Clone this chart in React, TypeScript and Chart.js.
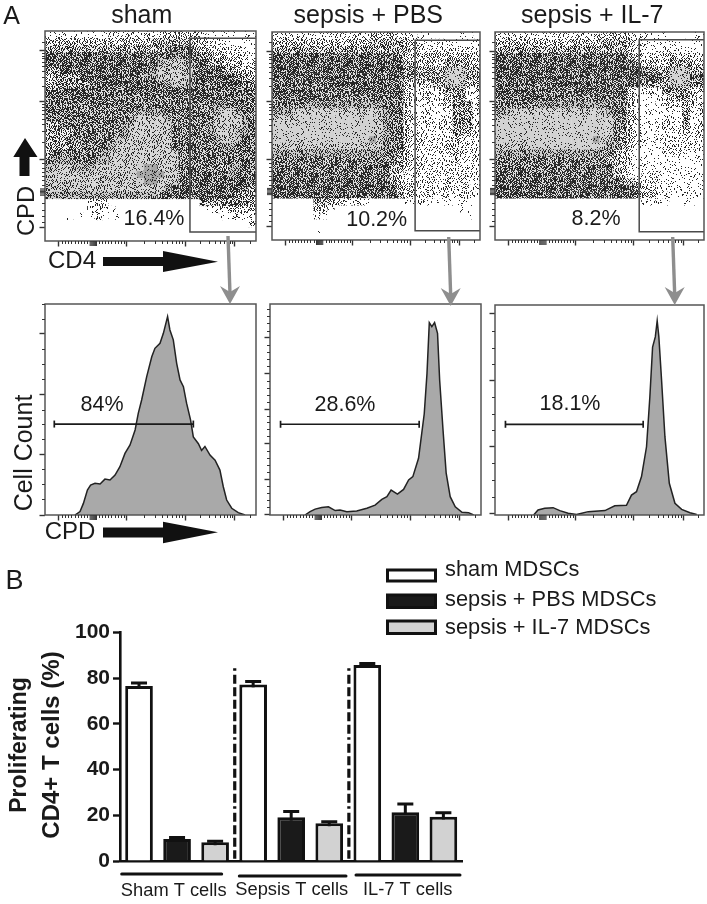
import React, { useEffect, useRef } from "react";
import { Chart, registerables } from "chart.js";

Chart.register(...registerables);

const FONT = "'Liberation Sans', Arial, sans-serif";

/* ---------- Panel A, top row: density, 30 x 30 cells, top row first.
   0 = empty, 1-5 = rising density of black events, 6-8 = pale grey cores, 9 = densest core */
const shamDensity = [
  "112111211222222223333321111011",
  "333333333333333444444332211111",
  "444444444444444445555433222211",
  "555555555555555555655544332221",
  "555555555555555567776554433322",
  "445555555555555677777555544333",
  "344445555555556677777555555443",
  "344444555555555556776555555544",
  "445555555555555555555555555554",
  "555555555555555555555555555555",
  "555555555555555555555555665554",
  "555555555555566665555555677655",
  "555555555555677776555555777765",
  "445555555556777777555556777765",
  "444455555556777777555556777665",
  "444555555567777777555555677655",
  "444445555677777777555555566555",
  "455555556777777777755555555555",
  "566655566777777777755555555555",
  "677766677777789977755555546655",
  "777777777777899997755555556555",
  "777777777777789977755555555555",
  "777777777777777776555555555554",
  "666666666666666655555555555444",
  "000000222000000000000044444443",
  "000000222100000000000001223332",
  "000101121010000000000000011222",
  "000000000000000000000000000012",
  "000000000000000000000000000000",
  "000000000000000000000000000000",
];
const pbsDensity = [
  "222222222222223333222110000110",
  "333333333333334444433111211111",
  "444444444444444444443222222222",
  "555555555555555555433333333333",
  "555555555555555555543333344433",
  "555555555555555555544444477744",
  "555555555555555555544444488844",
  "555555555555555555533334477733",
  "555555555555555555532222344422",
  "555555555555555555532222234422",
  "555556666666666655532222224442",
  "666777777777777765532222224442",
  "777788888888888765532222224442",
  "888888888888888765532222224442",
  "888888888888888765532222224432",
  "888888888888889765532222223322",
  "777777777777777765532222233222",
  "666666666666666655432222223222",
  "555555555555555555432222223222",
  "555555555555555554432222222222",
  "555555555555555554322222222222",
  "555555555555555554322222222212",
  "555555555555555555332222222222",
  "555555555555555555432222222221",
  "000000443322210000011211111110",
  "000000331000000000000000000110",
  "000000210000000000000000000010",
  "000000000000000000000000000000",
  "000000100000000000000000000000",
  "000000000000000000000000000000",
];
const il7Density = [
  "222222222222222333322211100011",
  "333333333333333444432111111111",
  "444444444444444444432111211111",
  "555555555555555555543222332222",
  "555555555555555555554333344433",
  "555555555555555555555544477744",
  "555555555555555555555555488855",
  "555555555555555555555444477744",
  "555555555555555555532222444432",
  "555555555555555555532112234431",
  "555555666666666655532112223332",
  "667777777777777765532112222422",
  "788888888888888875532112222422",
  "888888888888888875532112222422",
  "888888888888888875432112222322",
  "888888888888889875432112222322",
  "777778888888888765432111222222",
  "666666666666666554321111222111",
  "555555555555555544321111111111",
  "555555555555555554321111111111",
  "555555555555555554321222111111",
  "555555555555555555443222111111",
  "555555555555555555554322111111",
  "555555555555555555554332211111",
  "000000000000000000000112100110",
  "000000000000000000000000000000",
  "000000000000000000000000000000",
  "000000000000000000000000000000",
  "000000000000000000000000000000",
  "000000000000000000000000000000",
];

/* gate rectangles: [left x, top y, bottom y], right side is the axis end */
const shamGate = [68.7, 96.5, 4.3];
const pbsGate = [68.8, 96.0, 4.5];
const il7Gate = [69.0, 96.3, 4.0];

/* ---------- Panel A, bottom row: histogram outlines */
const shamHistX = [14.2, 16.6, 18.2, 20.1, 21.6, 23.7, 26.1, 28.4, 30.8, 33.2, 35.5, 37.9, 40.3, 42.7, 44.2, 45.8, 48.2, 50.6, 52.1, 54.5, 56.1, 58.1, 59.2, 60.8, 62.4, 64, 65.6, 67.1, 69, 70.3, 72.7, 74.2, 75.8, 78.2, 80.6, 82.9, 84.5, 86.1, 88.5, 91.6, 94.8];
const shamHistY = [0, 1.6, 5.5, 11.8, 14.2, 15, 14.7, 17, 16.6, 18.9, 22.9, 29.2, 33.2, 40.3, 48.2, 54.5, 65.6, 75, 79, 81.4, 86.1, 94, 87.7, 83, 71.9, 64, 60.8, 53, 45, 37, 33.8, 30.6, 32.5, 28.4, 26, 21.3, 13.4, 7.1, 3.2, 1.1, 0];
const pbsHistX = [16.6, 19, 21.4, 24.5, 27.7, 30.9, 33.2, 36.4, 41.1, 45.9, 49.8, 53, 55.4, 57.4, 60.4, 63.3, 65.7, 67.7, 70.4, 71.7, 73.1, 74.4, 75.5, 76.7, 78, 79.4, 80.4, 82, 83.5, 85.4, 87.8, 91, 94.1, 96.5];
const pbsHistY = [0, 1.6, 2.8, 3.6, 3.9, 2.1, 2.4, 1.6, 1.9, 3.2, 4.7, 7.4, 8.7, 11.8, 9.9, 12.1, 16.6, 18.2, 26.9, 37, 48, 67, 91.2, 89.3, 91.2, 86.1, 64, 40.3, 19.8, 8.7, 3.9, 1.3, 1.1, 0];
const il7HistX = [18.5, 20.6, 23.8, 27.8, 31, 35, 39, 44.6, 52.6, 57.3, 62.9, 65.3, 67.7, 70.1, 72.5, 74.1, 75.4, 76.7, 77.6, 78.4, 79.7, 81.3, 83.4, 86.1, 89.3, 93.3, 96.5];
const il7HistY = [0, 2.4, 3.2, 3.5, 2.1, 0.8, 0.2, 1.6, 2.1, 4.4, 4.6, 9.5, 11.1, 18.3, 32.5, 56.3, 80, 84.8, 92.5, 84.8, 64.2, 37.3, 15.1, 5.6, 2.7, 1.1, 0.3];

/* proliferation marker: [from x, to x, y] */
const shamMarker = [4.4, 70.3, 43.1];
const pbsMarker = [5, 70.7, 43];
const il7Marker = [5, 70.9, 43.2];

/* ---------- Axis ticks */
const logXMajor = [6.3, 38.7, 66.4, 90];
const logXClump = [21.4, 21.9, 22.4, 22.9, 23.4, 23.9, 24.4];
const logXMinor = [8, 9.5, 11, 12.5, 14, 15.5, 17, 18.5, 20, 25.8, 27.2, 28.6, 30, 31.5, 33, 34.5, 36, 37.5, 47, 52, 55.3, 58, 60.2, 62.2, 63.7, 65.1, 73.5, 77.8, 80.6, 82.9, 84.7, 86.3, 87.7, 88.8, 97];
const logYMajor = [90.6, 66.6, 38.9, 6.4];
const logYClump = [21.8, 22.4, 23, 23.6, 24.2, 24.8];
const logYMinor = [95, 73.8, 78.1, 81, 83.4, 85.3, 87, 88.2, 89.4, 47.2, 52.2, 55.5, 58.3, 60.5, 62.4, 63.8, 65.2, 26.5, 29, 31, 33, 35, 37, 9, 12, 15, 18];
const shamCountMajor = [0, 28.9, 57.3, 85.8];
const shamCountMinor = [7.4, 14.5, 21.6, 36, 43.1, 50, 64.5, 71.6, 78.7, 92.7, 100];
const pbsCountMajor = [0.3, 17, 34, 50.2, 67.1, 84];
const pbsCountMinor = [3.7, 7, 10.4, 13.7, 20.4, 23.7, 27, 30.4, 37.3, 40.7, 44, 47, 53.6, 57, 60.3, 63.7, 70.5, 73.8, 77.2, 80.6, 87.4, 90.8, 94.1, 97.5];
const il7CountMajor = [0.8, 32.5, 64, 96];
const il7CountMinor = [8.7, 16.7, 24.6, 40.5, 48, 56, 72, 79.7, 87.8];

/* ---------- Panel B */
const barCategories = ["sham", "sham", "sham", "sepsis", "sepsis", "sepsis", "il7", "il7", "il7"];
const seriesNames = ["sham MDSCs", "sepsis + PBS MDSCs", "sepsis + IL-7 MDSCs"];
const shamMdscValues = [76.5, 77.2, 85.7];
const pbsMdscValues = [9.6, 19.1, 21.3];
const il7MdscValues = [8.2, 16.5, 19.4];
const shamMdscErrorTop = [77.8, 78.5, 86.4];
const pbsMdscErrorTop = [10.3, 21.6, 24.9];
const il7MdscErrorTop = [8.6, 17.2, 21.1];
const yTicks = [0, 20, 40, 60, 80, 100];

/* fixed irregular threshold tile giving the dot plots their stipple */
const stipple = [
  "k3z9q1v7m2x5c8t0p4n6r2ja",
  "7hs0f4ybu6e1w9g3lzd5ko8i",
  "p2m8c5tj1xr7a4qn0v6hy3se",
  "0wg6lzd3ok9if2ub7e5s1tcx",
  "u4r1n9ha5ym8q3k6jp0z7gv2",
  "b8e3x7s0cv2tl5f9od1wi6m4",
  "6jz1kq4pg8n0ra3yh7ue5c9t",
  "d5o9wi2f7lbs6x1mv4kz0gq3",
  "3ya7h0u5ret2jc8pn1i6w9fl",
  "m1v6g4qz9k3dso5xb0te7a2h",
  "f8c2tx6j1pn7ly4ru9e3w0ik",
  "o0i5wd3mb8ga2vz6hs1qc7y4",
  "9nr7ky1uf4ej0tp5xl8d3m6a",
  "s2h4zg6ac9qo3wi7bv1jn0ue",
  "1x8lt0pe5d7yk2mr6fa9gs4c",
  "vb3q9j7ns1hu6zc0ot4i2w8k",
  "4ag6yfm2xl8e5dp3kr7j1q0u",
  "zt1o5c0wi9bv4sh8gy2n6el3",
  "8kr3jud6nq2a7m1xc5f0z9pt",
  "e0w7h4g1ysl9ti3ov6bk2q5d",
  "2pc5mz8fa0xk6ru1j7e3ny9g",
  "iq9t1vb3oh5d2gw8ls4c0m6z",
  "5y6ne7u2rk0pj9fa3t1xi8hv",
  "gl0a3s8dwz4c7qm5yb2o6ku1",
];
const toneStyles = [
  ["#ffffff", 0],
  ["#ffffff", 2],
  ["#ffffff", 5],
  ["#ffffff", 9],
  ["#f2f2f2", 14],
  ["#dcdcdc", 19],
  ["#cccccc", 11],
  ["#d6d6d6", 6],
  ["#d2d2d2", 3],
  ["#a6a6a6", 4],
] as [string, number][];

const TILE = 120;
function tonePattern(tone: number): CanvasPattern | string {
  const [bg, count] = toneStyles[tone];
  const c = document.createElement("canvas");
  c.width = TILE;
  c.height = TILE;
  const g = c.getContext("2d")!;
  g.fillStyle = bg;
  g.fillRect(0, 0, TILE, TILE);
  g.fillStyle = "#262626";
  for (let y = 0; y < TILE; y++) {
    for (let x = 0; x < TILE; x++) {
      const row = stipple[(y + (x >> 3) * 5 + (x >> 1) * 7) % 24];
      if (parseInt(row[(x + y * 11 + (y >> 2) * 7) % 24], 36) < count) g.fillRect(x, y, 1, 1);
    }
  }
  return g.createPattern(c, "repeat")!;
}

function densityDatasets(grid: string[]) {
  const out: any[] = [];
  for (let tone = 1; tone <= 9; tone++) {
    const pts: { x: number; y: number }[] = [];
    grid.forEach((row, r) => {
      for (let c = 0; c < row.length; c++) {
        if (Number(row[c]) === tone) pts.push({ x: ((c + 0.5) * 100) / 30, y: 100 - ((r + 0.5) * 100) / 30 });
      }
    });
    const fill = tonePattern(tone);
    out.push({
      data: pts,
      showLine: false,
      pointStyle: "rect",
      pointRadius: 5.1,
      pointBorderWidth: 0,
      pointBackgroundColor: fill,
      pointHoverRadius: 5.1,
    });
  }
  return out;
}

const frameAndTicks = (minorX: number[], minorY: number[], clumpX: number[], clumpY: number[]) => ({
  id: "frameTicks",
  afterDraw(chart: any) {
    const { ctx, chartArea: a, scales } = chart;
    ctx.save();
    ctx.strokeStyle = "#555555";
    ctx.lineWidth = 1.5;
    ctx.strokeRect(a.left, a.top, a.right - a.left, a.bottom - a.top);
    ctx.strokeStyle = "#333333";
    ctx.lineWidth = 1;
    ctx.beginPath();
    minorX.forEach((v) => {
      const p = Math.round(scales.x.getPixelForValue(v)) + 0.5;
      ctx.moveTo(p, a.bottom);
      ctx.lineTo(p, a.bottom + 3);
    });
    clumpX.forEach((v) => {
      const p = scales.x.getPixelForValue(v);
      ctx.moveTo(p, a.bottom);
      ctx.lineTo(p, a.bottom + 5);
    });
    minorY.forEach((v) => {
      const p = Math.round(scales.y.getPixelForValue(v)) + 0.5;
      ctx.moveTo(a.left, p);
      ctx.lineTo(a.left - 3, p);
    });
    clumpY.forEach((v) => {
      const p = scales.y.getPixelForValue(v);
      ctx.moveTo(a.left, p);
      ctx.lineTo(a.left - 5, p);
    });
    ctx.stroke();
    ctx.restore();
  },
});

function clearScalePadding(s: any) {
  s.paddingTop = 0;
  s.paddingBottom = 0;
  s.paddingLeft = 0;
  s.paddingRight = 0;
}

function panelOptions(majorX: number[], majorY: number[]) {
  const axis = (major: number[], side: "w" | "h") => ({
    type: "linear",
    min: 0,
    max: 100,
    afterBuildTicks: (s: any) => {
      s.ticks = major.map((value) => ({ value }));
    },
    afterFit: (s: any) => {
      if (side === "w") s.width = 8;
      else s.height = 8;
      clearScalePadding(s);
    },
    ticks: { display: false, autoSkip: false },
    border: { display: false },
    grid: { drawOnChartArea: false, drawTicks: true, tickLength: 5.5, tickColor: "#333333", tickWidth: 1.4 },
  });
  return {
    responsive: false,
    animation: false as const,
    layout: { autoPadding: false, padding: { top: 1, right: 1, left: 0, bottom: 0 } },
    plugins: { legend: { display: false }, tooltip: { enabled: false }, title: { display: false } },
    scales: { x: axis(majorX, "h"), y: axis(majorY, "w") },
  };
}

function makeDotPlot(canvas: HTMLCanvasElement, grid: string[], gate: number[]) {
  const [gx, gt, gb] = gate;
  return new Chart(canvas, {
    type: "scatter",
    data: {
      datasets: [
        {
          data: [
            { x: 100, y: gt },
            { x: gx, y: gt },
            { x: gx, y: gb },
            { x: 100, y: gb },
          ],
          showLine: true,
          fill: false,
          tension: 0,
          pointRadius: 0,
          borderColor: "#4a4a4a",
          borderWidth: 1.5,
        },
        ...densityDatasets(grid),
      ],
    } as any,
    options: panelOptions(logXMajor, logYMajor) as any,
    plugins: [frameAndTicks(logXMinor, logYMinor, logXClump, logYClump)],
  });
}

function makeHistogram(
  canvas: HTMLCanvasElement,
  xs: number[],
  ys: number[],
  marker: number[],
  majorY: number[],
  minorY: number[],
) {
  return new Chart(canvas, {
    type: "scatter",
    data: {
      datasets: [
        {
          data: [
            { x: marker[0], y: marker[2] },
            { x: marker[1], y: marker[2] },
          ],
          showLine: true,
          fill: false,
          borderColor: "#1a1a1a",
          borderWidth: 1.7,
          pointStyle: "line",
          pointRotation: 90,
          pointRadius: 3.5,
          pointBorderWidth: 1.7,
          pointBorderColor: "#1a1a1a",
        },
        {
          data: xs.map((x, i) => ({ x, y: ys[i] })),
          showLine: true,
          tension: 0,
          fill: "origin",
          backgroundColor: "#a9a9a9",
          borderColor: "#222222",
          borderWidth: 1.5,
          pointRadius: 0,
        },
      ],
    } as any,
    options: panelOptions(logXMajor, majorY) as any,
    plugins: [frameAndTicks(logXMinor, minorY, logXClump, [])],
  });
}

const expand = (values: number[], offset: number) => {
  const out: (number | null)[] = new Array(barCategories.length).fill(null);
  values.forEach((v, g) => {
    out[g * 3 + offset] = v;
  });
  return out;
};

const errorBars = {
  id: "errorBars",
  beforeDatasetsDraw(chart: any) {
    const { ctx, scales } = chart;
    const sets = [
      [shamMdscErrorTop, 0],
      [pbsMdscErrorTop, 1],
      [il7MdscErrorTop, 2],
    ] as [number[], number][];
    ctx.save();
    ctx.strokeStyle = "#111111";
    ctx.lineWidth = 3;
    sets.forEach(([tops, off]) =>
      tops.forEach((top, g) => {
        const x = scales.x.getPixelForValue(g * 3 + off);
        const y = scales.y.getPixelForValue(top);
        const base = scales.y.getPixelForValue(top - 4);
        ctx.beginPath();
        ctx.moveTo(x, base);
        ctx.lineTo(x, y);
        ctx.moveTo(x - 8, y);
        ctx.lineTo(x + 8, y);
        ctx.stroke();
      }),
    );
    ctx.restore();
  },
  afterDatasetsDraw(chart: any) {
    const { ctx, scales } = chart;
    ctx.save();
    ctx.strokeStyle = "#111111";
    ctx.lineWidth = 3.2;
    [2.5, 5.5].forEach((v) => {
      const x = scales.x.getPixelForValue(v) + 0.6;
      const top = scales.y.getPixelForValue(84.3);
      const bottom = scales.y.getPixelForValue(1);
      ctx.setLineDash([2.5, 4, 9, 3.5, 9, 3.5, 9, 3.5, 9, 3.5, 9, 3.5]);
      ctx.beginPath();
      ctx.moveTo(x, top);
      ctx.lineTo(x, bottom);
      ctx.stroke();
    });
    ctx.restore();
  },
};

function makeBars(canvas: HTMLCanvasElement) {
  const fills = ["#ffffff", "#1a1a1a", "#d2d2d2"];
  const series = [shamMdscValues, pbsMdscValues, il7MdscValues];
  return new Chart(canvas, {
    type: "bar",
    data: {
      labels: barCategories.map((c, i) => `${c}-${i}`),
      datasets: series.map((values, s) => ({
        label: seriesNames[s],
        data: expand(values, s),
        backgroundColor: fills[s],
        borderColor: "#111111",
        borderWidth: 3,
        barPercentage: 0.727,
        categoryPercentage: 1,
      })),
    },
    options: {
      responsive: false,
      animation: false,
      layout: { autoPadding: false, padding: { top: 12.3, right: 2.6 } },
      plugins: { legend: { display: false }, tooltip: { enabled: false } },
      scales: {
        x: {
          stacked: true,
          afterFit: (s: any) => {
            s.height = 9;
            clearScalePadding(s);
          },
          ticks: { display: false },
          grid: { display: false },
          border: { display: true, color: "#111111", width: 2.6 },
        },
        y: {
          stacked: true,
          min: 0,
          max: 100,
          afterBuildTicks: (s: any) => {
            s.ticks = yTicks.map((value) => ({ value }));
          },
          afterFit: (s: any) => {
            s.width = 60;
            clearScalePadding(s);
          },
          ticks: { color: "#1a1a1a", font: { family: FONT, size: 21, weight: "bold" }, padding: 3 },
          grid: { drawOnChartArea: false, tickLength: 7, tickColor: "#111111", tickWidth: 2.4 },
          border: { display: true, color: "#111111", width: 2.6 },
        },
      },
    } as any,
    plugins: [errorBars],
  });
}

function blockArrow(ctx: CanvasRenderingContext2D, pts: number[][]) {
  ctx.beginPath();
  pts.forEach(([x, y], i) => (i ? ctx.lineTo(x, y) : ctx.moveTo(x, y)));
  ctx.closePath();
  ctx.fill();
}

const overlayPlugin = {
  id: "overlay",
  afterDraw(chart: any) {
    const ctx: CanvasRenderingContext2D = chart.ctx;
    ctx.save();
    ctx.fillStyle = "#111111";
    const text = (t: string, x: number, y: number, size: number, opts: any = {}) => {
      ctx.save();
      ctx.translate(x, y);
      if (opts.rot) ctx.rotate(-Math.PI / 2);
      ctx.font = `${opts.bold ? "bold " : ""}${size}px ${FONT}`;
      ctx.textAlign = opts.align || "center";
      ctx.textBaseline = "middle";
      ctx.fillStyle = opts.color || "#1a1a1a";
      ctx.fillText(t, 0, 0);
      ctx.restore();
    };

    text("A", 11.5, 17, 25);
    text("sham", 141.7, 16, 25);
    text("sepsis + PBS", 368.3, 16, 25);
    text("sepsis + IL-7", 592.3, 16, 25);
    text("16.4%", 154, 219.5, 21.5);
    text("10.2%", 376.7, 220.5, 21.5);
    text("8.2%", 596, 219.5, 21.5);
    text("CD4", 72, 261, 24);
    text("CPD", 27, 211, 23.7, { rot: true });
    text("Cell Count", 25, 453, 25, { rot: true });
    text("CPD", 70, 532.5, 24);
    text("84%", 102, 405, 21.5);
    text("28.6%", 345, 405.5, 21.5);
    text("18.1%", 570, 404, 21.5);
    text("B", 14.5, 582, 27);

    blockArrow(ctx, [[103, 257], [163, 257], [163, 251], [218, 261.7], [163, 272], [163, 266], [103, 266]]);
    blockArrow(ctx, [[19.5, 176], [19.5, 157], [13.3, 157], [25, 138], [37.5, 157], [29.5, 157], [29.5, 176]]);
    blockArrow(ctx, [[103, 527.5], [163, 527.5], [163, 521.7], [218, 532.3], [163, 543.3], [163, 537.5], [103, 537.5]]);

    ctx.fillStyle = "#8e8e8e";
    ctx.strokeStyle = "#8e8e8e";
    ctx.lineWidth = 3.4;
    ([
      [228, 236, 230, 304],
      [448.7, 237, 450.7, 306],
      [672.7, 237, 674.7, 305],
    ] as number[][]).forEach(([x0, y0, x1, y1]) => {
      ctx.beginPath();
      ctx.moveTo(x0, y0);
      ctx.lineTo(x1, y1 - 10);
      ctx.stroke();
      blockArrow(ctx, [[x1 - 10, y1 - 18], [x1, y1 - 12], [x1 + 10, y1 - 18], [x1, y1]]);
    });

    /* panel B: axis title, group brackets and labels, legend */
    text("Proliferating", 20, 745, 23, { rot: true, bold: true });
    text("CD4+ T cells (%)", 52, 745, 24, { rot: true, bold: true });

    ctx.strokeStyle = "#111111";
    ctx.lineWidth = 3;
    ctx.lineCap = "round";
    ([
      [121.7, 221.7, 874],
      [239.3, 346, 876],
      [356, 460, 875],
    ] as number[][]).forEach(([a, b, y]) => {
      ctx.beginPath();
      ctx.moveTo(a, y);
      ctx.lineTo(b, y);
      ctx.stroke();
    });
    ctx.lineCap = "butt";
    text("Sham T cells", 173.7, 891, 18.3);
    text("Sepsis T cells", 291.7, 890, 18.3);
    text("IL-7 T cells", 407.7, 889.5, 18.3);

    const fills = ["#ffffff", "#1a1a1a", "#d2d2d2"];
    ([
      [568.5, 582.5, 570],
      [593.5, 609, 599.5],
      [619.5, 635, 627.5],
    ] as number[][]).forEach(([top, bottom, ty], i) => {
      ctx.fillStyle = fills[i];
      ctx.strokeStyle = "#111111";
      ctx.lineWidth = 3;
      ctx.fillRect(387.5, top + 1.5, 48, bottom - top - 3);
      ctx.strokeRect(387.5, top + 1.5, 48, bottom - top - 3);
      text(seriesNames[i], 445, ty, 21.8, { align: "left" });
    });
    ctx.restore();
  },
};

function makeOverlay(canvas: HTMLCanvasElement) {
  return new Chart(canvas, {
    type: "scatter",
    data: { datasets: [] },
    options: {
      responsive: false,
      animation: false,
      plugins: { legend: { display: false }, tooltip: { enabled: false } },
      scales: { x: { display: false }, y: { display: false } },
    },
    plugins: [overlayPlugin],
  });
}

type Box = { left: number; top: number; width: number; height: number };
const place = (b: Box): React.CSSProperties => ({ position: "absolute", left: b.left, top: b.top, display: "block" });

const plotBox = (l: number, t: number, r: number, b: number): Box => ({
  left: l - 8,
  top: t - 1,
  width: r - l + 9,
  height: b - t + 9,
});

const boxes: Box[] = [
  plotBox(45, 31, 256, 241),
  plotBox(272, 32, 480, 240),
  plotBox(495, 32, 704, 240),
  plotBox(45, 304, 256, 515),
  plotBox(270, 304, 481, 515),
  plotBox(495, 305, 704, 515),
];
const barBox: Box = { left: 60, top: 620, width: 405, height: 250 };
const pageBox: Box = { left: 0, top: 0, width: 707, height: 904 };

export default function App() {
  const refs = useRef<(HTMLCanvasElement | null)[]>([]);
  useEffect(() => {
    const c = refs.current as HTMLCanvasElement[];
    const charts = [
      makeDotPlot(c[0], shamDensity, shamGate),
      makeDotPlot(c[1], pbsDensity, pbsGate),
      makeDotPlot(c[2], il7Density, il7Gate),
      makeHistogram(c[3], shamHistX, shamHistY, shamMarker, shamCountMajor, shamCountMinor),
      makeHistogram(c[4], pbsHistX, pbsHistY, pbsMarker, pbsCountMajor, pbsCountMinor),
      makeHistogram(c[5], il7HistX, il7HistY, il7Marker, il7CountMajor, il7CountMinor),
      makeBars(c[6]),
      makeOverlay(c[7]),
    ];
    return () => charts.forEach((ch) => ch.destroy());
  }, []);
  const all = [...boxes, barBox, pageBox];
  return (
    <div style={{ position: "absolute", left: 0, top: 0, width: 707, height: 904, background: "#fff", overflow: "hidden" }}>
      {all.map((b, i) => (
        <canvas
          key={i}
          ref={(el) => {
            refs.current[i] = el;
          }}
          width={b.width}
          height={b.height}
          style={{ ...place(b), filter: i < 3 ? "blur(0.55px)" : i < 7 ? "blur(0.3px)" : "blur(0.25px)" }}
        />
      ))}
    </div>
  );
}
